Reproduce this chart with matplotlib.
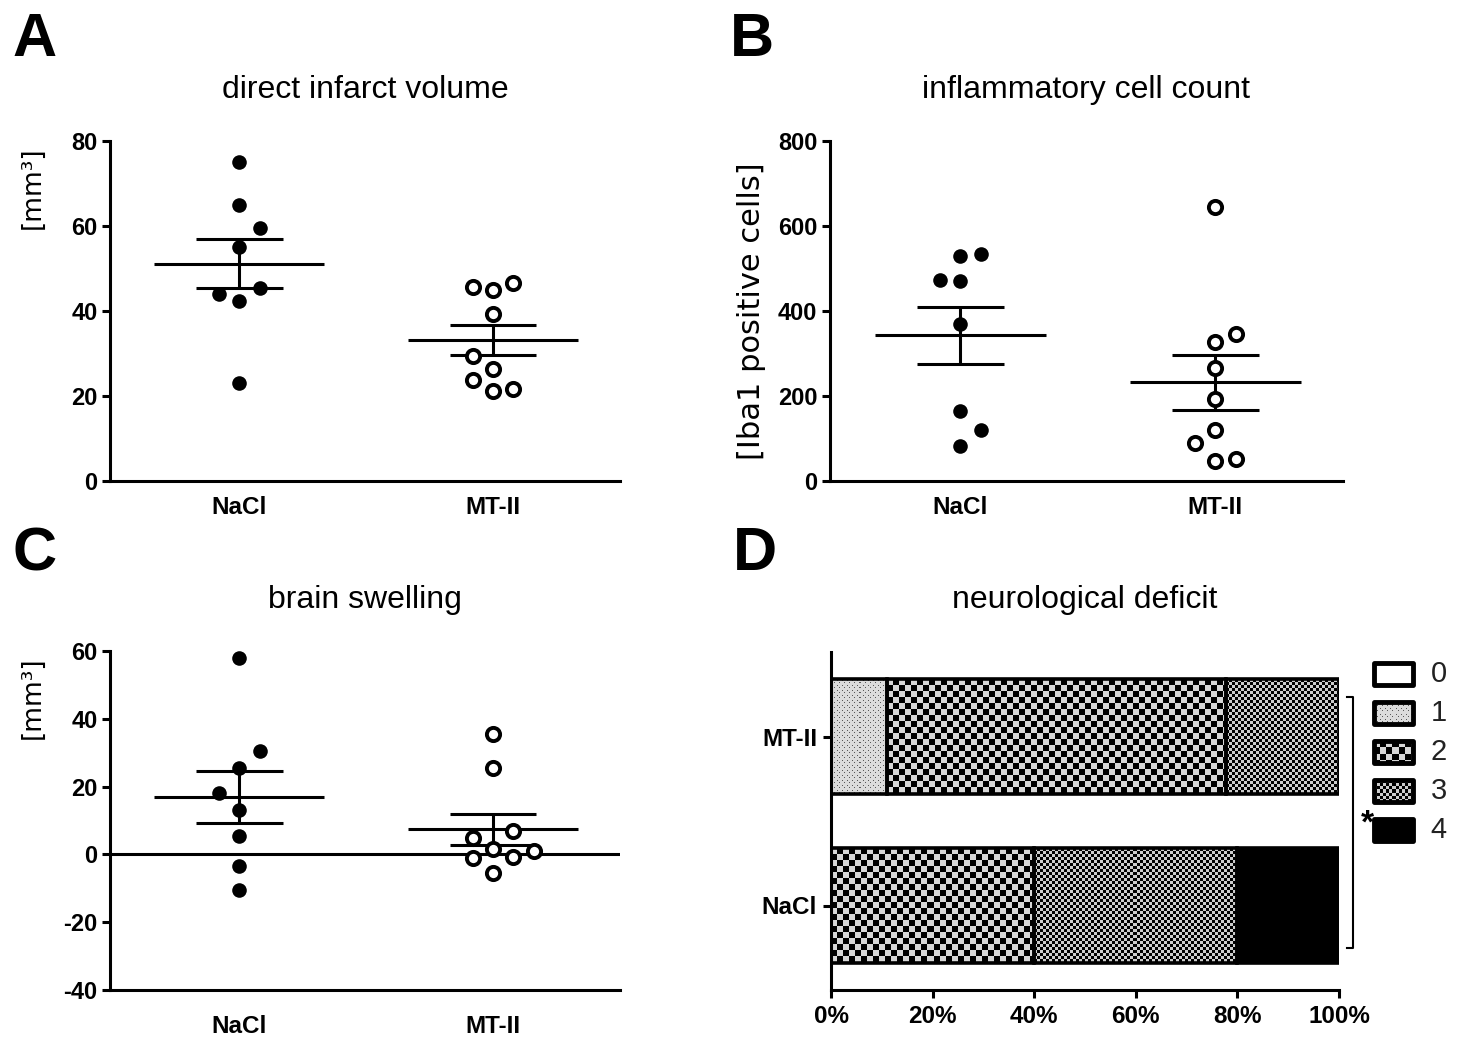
import numpy as np
import matplotlib
matplotlib.use("Agg")
import matplotlib.pyplot as plt
from matplotlib.patches import Rectangle

plt.rcParams['font.family'] = ['Liberation Sans', 'DejaVu Sans']
plt.rcParams['axes.linewidth'] = 2.2
plt.rcParams['axes.unicode_minus'] = False

groups = ["NaCl", "MT-II"]

# A: direct infarct volume [mm3]
infarct_nacl = [75, 65, 59.5, 55, 45.5, 44, 42.3, 23]
infarct_mt2 = [45.6, 45, 46.6, 39.3, 29.4, 26.4, 23.8, 21.2, 21.6]
# B: Iba1 positive cells
iba1_nacl = [530, 535, 472, 470, 370, 165, 120, 82]
iba1_mt2 = [645, 345, 328, 266, 192, 120, 90, 48, 52]
# C: brain swelling [mm3]
swell_nacl = [58, 30.5, 25.5, 18, 13, 5.3, -3.5, -10.5]
swell_mt2 = [35.4, 25.4, 6.8, 4.7, 1.5, 0.9, -1.2, -0.9, -5.6]

# column scatter slots (side-by-side arrangement of the dots)
slots_a = ([0, 0, 1, 0, 1, -1, 0, 0], [-1, 0, 1, 0, -1, 0, -1, 0, 1])
slots_b = ([0, 1, -1, 0, 0, 0, 1, 0], [0, 1, 0, 0, 0, 0, -1, 0, 1])
slots_c = ([0, 1, 0, -1, 0, 0, 0, 0], [0, 0, 1, -1, 0, 2, -1, 1, 0])

# D: neurological deficit, % of animals per score
scores = ["0", "1", "2", "3", "4"]
deficit_nacl = [0, 0, 40, 40, 20]
deficit_mt2 = [0, 11.1, 66.7, 22.2, 0]
score_fill = ["white", "dots", "coarse", "fine", "black"]

W, H = 1461, 1038
fig = plt.figure(figsize=(W / 100, H / 100), dpi=100)
LABEL_FONT = ["DejaVu Sans"]


def rect(l, t, r, b):
    return [l / W, 1 - b / H, (r - l) / W, (b - t) / H]


def texture(kind, h, w):
    r, c = np.mgrid[0:h, 0:w]
    if kind == "white":
        img = np.ones((h, w))
    elif kind == "dots":
        img = np.full((h, w), 0.86)
        mask = ((r % 5 == 1) & (c % 5 == 1)) | ((r % 5 == 3) & (c % 5 == 3))
        img[mask] = 0.35
    elif kind == "coarse":
        img = np.where(((r // 6) + (c // 6)) % 2 == 0, 0.84, 0.0)
    elif kind == "fine":
        img = np.where(((r // 3) + (c // 3)) % 2 == 0, 0.80, 0.0)
    else:
        img = np.zeros((h, w))
    return img


def fill_box(ax, kind, x0, x1, y0, y1):
    p0 = ax.transData.transform((x0, y0))
    p1 = ax.transData.transform((x1, y1))
    h = max(int(round(abs(p1[1] - p0[1]))), 1)
    w = max(int(round(abs(p1[0] - p0[0]))), 1)
    ax.imshow(texture(kind, h, w), cmap="gray", vmin=0, vmax=1,
              extent=(x0, x1, y0, y1), origin="upper", aspect="auto",
              interpolation="nearest", zorder=1)


def scatter_panel(ax, data, slots, ylim, step, ylabel, title, xpad, label_top, label_size):
    for i, (vals, sl) in enumerate(zip(data, slots)):
        xc = i + 1
        x = xc + np.array(sl) * 0.08
        if i == 0:
            ax.plot(x, vals, "o", ms=10.5, mfc="black", mec="black", mew=0, zorder=3)
        else:
            ax.plot(x, vals, "o", ms=9.5, mfc="white", mec="black", mew=2.8, zorder=3)
        m = np.mean(vals)
        sem = np.std(vals, ddof=1) / np.sqrt(len(vals))
        ax.hlines(m, xc - 0.335, xc + 0.335, color="black", lw=2.2, zorder=2)
        ax.hlines([m - sem, m + sem], xc - 0.17, xc + 0.17, color="black", lw=2.2, zorder=2)
        ax.vlines(xc, m - sem, m + sem, color="black", lw=2.2, zorder=2)
    ax.set_xlim(0.49, 2.5)
    ax.set_ylim(*ylim)
    ax.set_yticks(np.arange(ylim[0], ylim[1] + 1, step))
    ax.set_xticks([1, 2])
    ax.set_xticklabels(groups)
    for s in ["top", "right"]:
        ax.spines[s].set_visible(False)
    ax.tick_params(axis="y", length=6, width=2.2, pad=3, labelsize=17)
    ax.tick_params(axis="x", length=0, pad=xpad, labelsize=17.5)
    for t in ax.get_xticklabels() + ax.get_yticklabels():
        t.set_fontweight("bold")
    if label_top:
        ax.set_ylabel(ylabel, fontsize=label_size, loc="top", family=LABEL_FONT)
        ax.yaxis.set_label_coords(-0.126, 0.985)
    else:
        ax.set_ylabel(ylabel, fontsize=label_size, family=LABEL_FONT)
        ax.yaxis.set_label_coords(-0.125, 0.5)
    ax.text(0.5, 1.15, title, transform=ax.transAxes, ha="center", va="center", fontsize=23)


axA = fig.add_axes(rect(110, 141, 620, 481))
scatter_panel(axA, [infarct_nacl, infarct_mt2], slots_a, (0, 80), 20,
              "[mm³]", "direct infarct volume", 10.5, True, 19)

axB = fig.add_axes(rect(830, 141, 1343, 481))
scatter_panel(axB, [iba1_nacl, iba1_mt2], slots_b, (0, 800), 200,
              "[Iba1 positive cells]", "inflammatory cell count", 10.5, False, 22)

axC = fig.add_axes(rect(110, 651, 620, 990))
scatter_panel(axC, [swell_nacl, swell_mt2], slots_c, (-40, 60), 20,
              "[mm³]", "brain swelling", 18, True, 19)
axC.axhline(0, color="black", lw=2.2, zorder=1)

# D: stacked horizontal bars
axD = fig.add_axes(rect(831, 652, 1339, 990))
axD.set_xlim(0, 100)
axD.set_ylim(-0.5, 1.5)
bar_h = 0.68
for yi, row in enumerate([deficit_nacl, deficit_mt2]):
    left = 0
    for k, val in enumerate(row):
        if val <= 0:
            continue
        fill_box(axD, score_fill[k], left, left + val, yi - bar_h / 2, yi + bar_h / 2)
        axD.barh(yi, val, left=left, height=bar_h, color="none",
                 edgecolor="black", lw=2.6, zorder=2)
        left += val
axD.set_xlim(0, 100)
axD.set_ylim(-0.5, 1.5)
axD.set_yticks([0, 1])
axD.set_yticklabels(groups)
axD.set_xticks(np.arange(0, 101, 20))
axD.set_xticklabels([f"{v}%" for v in range(0, 101, 20)])
for s in ["top", "right"]:
    axD.spines[s].set_visible(False)
axD.tick_params(axis="both", length=6, width=2.2, labelsize=17.5)
axD.tick_params(axis="x", pad=5)
axD.tick_params(axis="y", pad=4)
for t in axD.get_xticklabels() + axD.get_yticklabels():
    t.set_fontweight("bold")
axD.text(0.5, 1.155, "neurological deficit", transform=axD.transAxes,
         ha="center", va="center", fontsize=23)
# significance bracket
axD.plot([1.016, 1.0276, 1.0276, 1.016], [0.867, 0.867, 0.124, 0.124],
         transform=axD.transAxes, clip_on=False, color="black", lw=1.5)
axD.text(1.055, 0.49, "*", transform=axD.transAxes, ha="center", va="center",
         fontsize=24, fontweight="bold")

# legend of deficit scores
lax = fig.add_axes(rect(1365, 654.5, 1461, 849.5))
lax.set_xlim(0, 1)
lax.set_ylim(len(scores) - 0.5, -0.5)
lax.axis("off")
for k, lab in enumerate(scores):
    x0, x1 = 0.09, 0.5
    y0, y1 = k + 0.27, k - 0.27
    fill_box(lax, score_fill[k], x0, x1, y0, y1)
    lax.add_patch(Rectangle((x0, k - 0.27), x1 - x0, 0.54, fill=False,
                            edgecolor="black", lw=3.5, joinstyle="round", zorder=2))
    lax.text(0.77, k, lab, ha="center", va="center", fontsize=21,
             family=["Liberation Sans Narrow", "Liberation Sans"], color="#222222")
lax.set_xlim(0, 1)
lax.set_ylim(len(scores) - 0.5, -0.5)

# panel letters
for letter, (px, py) in zip("ABCD", [(35, 40), (752, 40), (35, 555), (755, 555)]):
    fig.text(px / W, 1 - py / H, letter, ha="center", va="center",
             fontsize=44, fontweight="bold")

fig.savefig("out.png", dpi=100)
